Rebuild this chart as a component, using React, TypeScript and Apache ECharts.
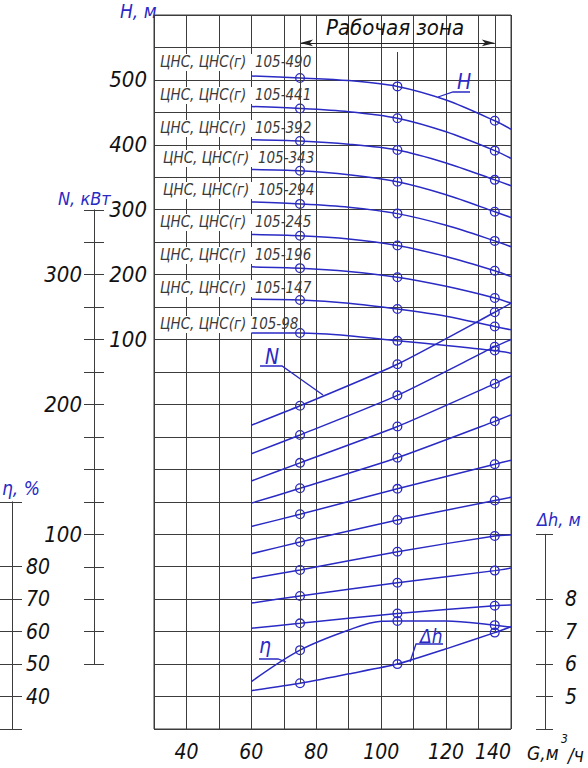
import React, { useEffect, useRef } from 'react';
import * as echarts from 'echarts';

// ---- data ----
const G_H = [60, 75, 90, 105, 120, 135, 140];
const H_490 = [506, 503, 499, 490, 469, 437, 424];
const H_441 = [459, 456, 451, 441, 420, 391, 379];
const H_392 = [408, 406, 401, 392, 372, 346, 337];
const H_343 = [362, 360, 354, 343, 323, 297, 288];
const H_294 = [312, 309, 304, 294, 276, 252, 243];
const H_245 = [262, 260, 255, 245, 228, 206, 197];
const H_196 = [212, 210, 205, 196, 182, 164, 156];
const H_147 = [162, 161, 156, 147, 136, 120, 115];
const H_98 = [110, 110, 106, 98, 91, 83, 79];

const G_N = [60, 75, 105, 135, 140];
const N_490 = [184, 199, 231, 271, 278];
const N_441 = [162, 176.5, 207, 244.5, 250];
const N_392 = [141, 155, 183, 216, 222];
const N_343 = [124, 135.4, 159, 187, 192];
const N_294 = [106, 115.4, 135, 154, 157];
const N_245 = [85, 94, 111, 126, 128.5];
const N_196 = [66, 72.5, 86.6, 98.7, 99.5];
const N_147 = [47, 52.5, 62.7, 72, 74];
const N_98 = [27.6, 31.4, 39, 45, 45.5];

const G_ETA = [60, 75, 90, 100, 105, 120, 135, 140];
const ETA = [44.6, 54.3, 60.5, 63.2, 63.3, 63.3, 62, 61.4];
const G_DH = [60, 75, 90, 105, 120, 135, 140];
const DH = [5.18, 5.41, 5.7, 6.0, 6.47, 6.97, 7.15];

const PUMP_LABELS = [
  'ЦНС, ЦНС(г)  105-490',
  'ЦНС, ЦНС(г)  105-441',
  'ЦНС, ЦНС(г)  105-392',
  'ЦНС, ЦНС(г)  105-343',
  'ЦНС, ЦНС(г)  105-294',
  'ЦНС, ЦНС(г)  105-245',
  'ЦНС, ЦНС(г)  105-196',
  'ЦНС, ЦНС(г)  105-147',
  'ЦНС, ЦНС(г) 105-98',
];
const H_SERIES = [H_490, H_441, H_392, H_343, H_294, H_245, H_196, H_147, H_98];
const N_SERIES = [N_490, N_441, N_392, N_343, N_294, N_245, N_196, N_147, N_98];

const MARK_G = [75, 105, 135];
const ZONE = [75, 135];
const X_LABELS = [40, 60, 80, 100, 120, 140];
const H_LABELS = [100, 200, 300, 400, 500];
const N_LABELS = [100, 200, 300];
const ETA_TICKS = ['30', '40', '50', '60', '70', '80', '90', '100'];
const ETA_LABELS = ['40', '50', '60', '70', '80'];
const DH_TICKS = ['4', '5', '6', '7', '8', '9', '10'];
const DH_LABELS = ['5', '6', '7', '8'];
const SKIPPED_TICKS = ['90', '9'];

// ---- styles ----
const BLUE = '#2a2ac4';
const GRIDC = '#3c3c3c';
const FONT = '"Liberation Sans Narrow", "DejaVu Sans Condensed", "Liberation Sans", sans-serif';
const RING =
  'path://M10 0A10 10 0 1 1 10 20A10 10 0 1 1 10 0ZM10 2.6A7.4 7.4 0 1 0 10 17.4A7.4 7.4 0 1 0 10 2.6Z';

const numLabel = (size: number) => ({
  fontFamily: FONT,
  fontStyle: 'italic' as const,
  fontSize: size,
  color: '#111',
});

function curve(xs: number[], ys: number[], yAxisIndex: number, smooth: number, extra: any = {}) {
  return {
    type: 'line',
    xAxisIndex: 0,
    yAxisIndex,
    data: xs.map((x, i) => [x, ys[i]]),
    smooth,
    symbol: (v: number[]) => (MARK_G.includes(v[0]) ? RING : 'none'),
    symbolSize: 10,
    showSymbol: true,
    showAllSymbol: true,
    lineStyle: { color: BLUE, width: 1.5 },
    itemStyle: { color: BLUE, borderWidth: 0 },
    emphasis: { disabled: true },
    silent: true,
    z: 3,
    ...extra,
  };
}

const txt = (text: string, x: number, y: number, size: number, fill: string, align = 'left') => ({
  type: 'text',
  x,
  y,
  z: 5,
  silent: true,
  style: {
    text,
    fill,
    font: `italic ${size}px ${FONT}`,
    textAlign: align,
    textVerticalAlign: 'middle',
  },
});

const poly = (points: number[][]) => ({
  type: 'polyline',
  z: 5,
  silent: true,
  shape: { points },
  style: { stroke: BLUE, fill: 'none', lineWidth: 1.3 },
});

const LABEL_Y = [62, 95, 128, 158, 190, 222, 255, 288, 324];
const LABEL_X = [160, 160, 160, 163, 163, 160, 160, 160, 160];

export default function App() {
  const ref = useRef<HTMLDivElement>(null);
  useEffect(() => {
    if (!ref.current) return;
    const chart = echarts.init(ref.current, undefined, { renderer: 'svg' });

    const series: any[] = [];
    H_SERIES.forEach((h, i) => {
      const extra: any = {};
      if (i === 0) {
        extra.markLine = {
          silent: true,
          symbol: ['arrow', 'arrow'],
          symbolSize: [5, 13],
          label: { show: false },
          lineStyle: { color: '#222', width: 1, type: 'solid' },
          data: [[{ coord: [ZONE[0], 557] }, { coord: [ZONE[1], 557] }]],
        };
      }
      series.push(curve(G_H, h, 0, 0.3, extra));
    });
    N_SERIES.forEach((n) => series.push(curve(G_N, n, 1, 0.2)));
    series.push(curve(G_ETA, ETA, 2, 0.35));
    series.push(
      curve(G_DH, DH, 3, 0.2, {
        markLine: {
          silent: true,
          symbol: ['none', 'none'],
          label: { show: false },
          lineStyle: { color: GRIDC, width: 1, type: 'solid' },
          data: [
            [{ coord: [MARK_G[0], DH[1]] }, { coord: [MARK_G[0], 26] }],
            [{ coord: [MARK_G[1], DH[3]] }, { coord: [MARK_G[1], 24.86] }],
            [{ coord: [MARK_G[2], DH[5]] }, { coord: [MARK_G[2], 26] }],
          ],
        },
      })
    );

    const graphic: any[] = [];
    PUMP_LABELS.forEach((t, i) => {
      graphic.push({
        type: 'rect',
        z: 2,
        silent: true,
        shape: { x: 157, y: LABEL_Y[i] - 8, width: 125, height: 17 },
        style: { fill: '#fff' },
      });
      graphic.push({ ...txt(t, LABEL_X[i], LABEL_Y[i], 15, '#3a3a3a'), z: 2 });
    });
    graphic.push(txt('H, м', 120, 11, 19, BLUE));
    graphic.push(txt('N, кВт', 58, 198, 18, BLUE));
    graphic.push(txt('η, %', 2, 488, 19, BLUE));
    graphic.push(txt('Δh, м', 537, 519, 18, BLUE));
    graphic.push(txt('G,м', 527, 753, 19, '#111'));
    graphic.push(txt('3', 561, 739, 12, '#111'));
    graphic.push(txt('/ч', 568, 755, 19, '#111'));
    graphic.push(txt('Рабочая зона', 395, 27, 22, '#111', 'center'));
    graphic.push(txt('H', 457, 82, 21, BLUE));
    graphic.push(poly([[470, 92], [453, 92], [438, 97]]));
    graphic.push(txt('N', 265, 357, 21, BLUE));
    graphic.push(poly([[260, 366], [282, 366], [323, 395]]));
    graphic.push(txt('η', 259, 646, 21, BLUE));
    graphic.push(poly([[259, 659], [278, 659], [286, 662]]));
    graphic.push(txt('Δh', 420, 636, 19, BLUE));
    graphic.push(poly([[443, 644], [416, 644], [410, 662]]));

    const hiddenY = (min: number, max: number) => ({
      gridIndex: 0,
      type: 'value',
      min,
      max,
      show: false,
      splitLine: { show: false },
    });

    const auxAxisLine = { show: true, onZero: false, lineStyle: { color: GRIDC, width: 1 } };

    chart.setOption({
      animation: false,
      backgroundColor: '#fff',
      grid: [
        { left: 154, top: 15, width: 357, height: 714, show: true, borderColor: GRIDC, borderWidth: 1 },
        { left: 84, top: 209.8, width: 20, height: 454.3 },
        { left: 0, top: 501.8, width: 22, height: 227.2 },
        { left: 536, top: 534.3, width: 17, height: 194.7 },
      ],
      xAxis: [
        {
          gridIndex: 0,
          type: 'value',
          min: 30,
          max: 140,
          interval: 10,
          axisLine: { show: false, onZero: false },
          axisTick: { show: false },
          splitLine: { show: true, lineStyle: { color: GRIDC, width: 1 } },
          axisLabel: {
            ...numLabel(21),
            margin: 12,
            alignMaxLabel: 'right',
            formatter: (v: number) => (X_LABELS.includes(v) ? String(v) : ''),
          },
        },
        { gridIndex: 1, type: 'value', show: false },
        { gridIndex: 2, type: 'value', show: false },
        { gridIndex: 3, type: 'value', show: false },
      ],
      yAxis: [
        {
          gridIndex: 0,
          type: 'value',
          min: -500,
          max: 600,
          interval: 50,
          axisLine: { show: false, onZero: false },
          axisTick: { show: false },
          splitLine: { show: true, lineStyle: { color: GRIDC, width: 1 } },
          axisLabel: {
            ...numLabel(22),
            margin: 7,
            formatter: (v: number) => (H_LABELS.includes(v) ? String(v) : ''),
          },
        },
        hiddenY(-50, 500),
        hiddenY(30, 250),
        hiddenY(4, 26),
        {
          gridIndex: 1,
          type: 'value',
          min: 0,
          max: 350,
          interval: 25,
          position: 'left',
          offset: -10,
          axisLine: auxAxisLine,
          axisTick: { show: false },
          splitLine: { show: true, lineStyle: { color: GRIDC, width: 1 } },
          axisLabel: {
            ...numLabel(22),
            margin: 12,
            formatter: (v: number) => (N_LABELS.includes(v) ? String(v) : ''),
          },
        },
        {
          gridIndex: 2,
          type: 'category',
          data: ETA_TICKS,
          boundaryGap: false,
          position: 'left',
          offset: -12,
          axisLine: auxAxisLine,
          axisTick: { show: false },
          splitLine: {
            show: true,
            interval: (_i: number, v: string) => !SKIPPED_TICKS.includes(v),
            lineStyle: { color: GRIDC, width: 1 },
          },
          axisLabel: {
            ...numLabel(21),
            inside: true,
            margin: 14,
            interval: 0,
            formatter: (v: string) => (ETA_LABELS.includes(v) ? v : ''),
          },
        },
        {
          gridIndex: 3,
          type: 'category',
          data: DH_TICKS,
          boundaryGap: false,
          position: 'left',
          offset: -9,
          axisLine: auxAxisLine,
          axisTick: { show: false },
          splitLine: {
            show: true,
            interval: (_i: number, v: string) => !SKIPPED_TICKS.includes(v),
            lineStyle: { color: GRIDC, width: 1 },
          },
          axisLabel: {
            ...numLabel(21),
            inside: true,
            margin: 20,
            interval: 0,
            formatter: (v: string) => (DH_LABELS.includes(v) ? v : ''),
          },
        },
      ],
      series,
      graphic,
    });

    return () => chart.dispose();
  }, []);

  return (
    <div
      ref={ref}
      style={{ position: 'absolute', left: 0, top: 0, width: 588, height: 768, background: '#fff' }}
    />
  );
}
